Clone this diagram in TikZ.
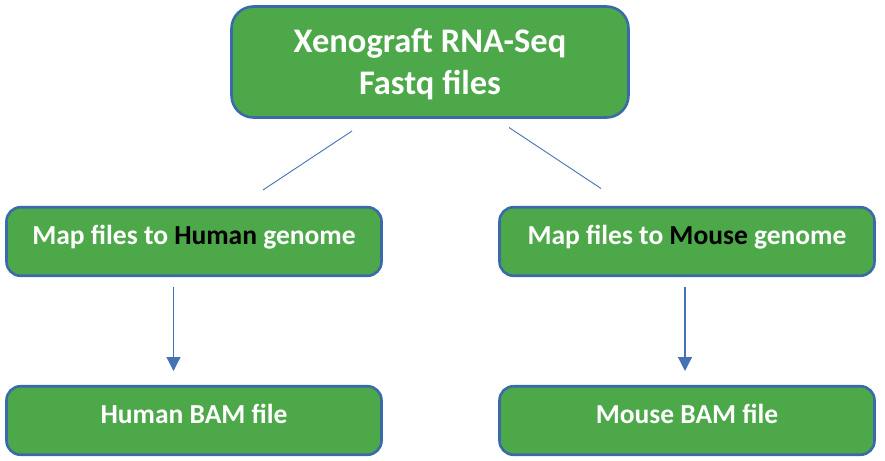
\documentclass[tikz,border=0pt]{standalone}
\usepackage{fontspec}
\setmainfont{Carlito}
\usetikzlibrary{arrows.meta}
\definecolor{boxgreen}{RGB}{76,168,72}
\definecolor{boxblue}{RGB}{58,106,170}
\definecolor{linkblue}{RGB}{68,114,180}
\begin{document}
\begin{tikzpicture}[x=1pt,y=-1pt,
  box/.style={draw=boxblue, line width=2.6pt, fill=boxgreen, rounded corners=14pt,
    text=white, font=\bfseries\fontsize{27.5}{32}\selectfont, inner sep=0pt,
    text height=15pt, text depth=9pt,
    minimum width=375pt, minimum height=68.5pt, align=center},
  topbox/.style={box, rounded corners=22pt, minimum width=397pt, minimum height=111pt,
    text height=72pt, text depth=8pt,
    font=\bfseries\fontsize{34.5}{42}\selectfont},
  link/.style={draw=linkblue, line width=0.9pt},
  arrowlink/.style={draw=linkblue, line width=1.2pt, -{Triangle[width=14pt,length=14pt]}}]
\useasboundingbox (0,0) rectangle (885,460);
\node[topbox] (top) at (430,62) {Xenograft RNA-Seq\\Fastq files};
\node[box] (mapH) at (194,241.5) {Map files to \textcolor{black}{Human} genome};
\node[box] (mapM) at (687,241.5) {Map files to \textcolor{black}{Mouse} genome};
\node[box] (bamH) at (194,420.5) {Human BAM file};
\node[box] (bamM) at (687,420.5) {Mouse BAM file};
\coordinate (l1a) at (352,131);
\coordinate (l1b) at (263,190);
\coordinate (l2a) at (509,127.5);
\coordinate (l2b) at (601,188.5);
\coordinate (a1a) at (173.5,287);
\coordinate (a1b) at (173.5,371);
\coordinate (a2a) at (685,287);
\coordinate (a2b) at (685,371);
\draw[link] (l1a) -- (l1b);
\draw[link] (l2a) -- (l2b);
\draw[arrowlink] (a1a) -- (a1b);
\draw[arrowlink] (a2a) -- (a2b);
\end{tikzpicture}
\end{document}
